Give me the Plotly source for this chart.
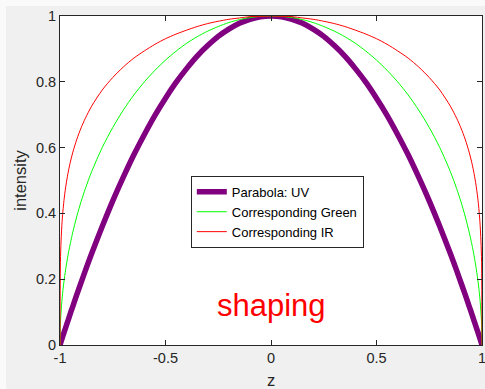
import plotly.graph_objects as go

# Sampled profile positions along z and the three intensity curves
z = [-1, -0.998, -0.995, -0.99, -0.985, -0.98, -0.97, -0.96, -0.95, -0.94, -0.92,
     -0.9, -0.88, -0.85, -0.8, -0.75, -0.7, -0.65, -0.6, -0.55, -0.5, -0.45, -0.4,
     -0.35, -0.3, -0.25, -0.2, -0.15, -0.1, -0.05, 0,
     0.05, 0.1, 0.15, 0.2, 0.25, 0.3, 0.35, 0.4, 0.45, 0.5, 0.55, 0.6, 0.65, 0.7,
     0.75, 0.8, 0.85, 0.88, 0.9, 0.92, 0.94, 0.95, 0.96, 0.97, 0.98, 0.985, 0.99,
     0.995, 0.998, 1]

uv_parabola = [0, .004, .010, .020, .030, .040, .059, .078, .098, .116, .154, .190,
               .226, .278, .360, .438, .510, .578, .640, .698, .750, .798, .840, .878,
               .910, .938, .960, .978, .990, .998, 1.000,
               .998, .990, .978, .960, .938, .910, .878, .840, .798, .750, .698, .640,
               .578, .510, .438, .360, .278, .226, .190, .154, .116, .098, .078, .059,
               .040, .030, .020, .010, .004, 0]

green = [0, .063, .100, .141, .173, .199, .243, .280, .312, .341, .392, .436, .475,
         .527, .600, .661, .714, .760, .800, .835, .866, .893, .917, .937, .954, .968,
         .980, .989, .995, .999, 1.000,
         .999, .995, .989, .980, .968, .954, .937, .917, .893, .866, .835, .800, .760,
         .714, .661, .600, .527, .475, .436, .392, .341, .312, .280, .243, .199, .173,
         .141, .100, .063, 0]

infrared = [0, .251, .316, .376, .415, .446, .493, .529, .559, .584, .626, .660, .689,
            .726, .775, .813, .845, .872, .894, .914, .931, .945, .957, .968, .977, .984,
            .990, .994, .998, .999, 1.000,
            .999, .998, .994, .990, .984, .977, .968, .957, .945, .931, .914, .894, .872,
            .845, .813, .775, .726, .689, .660, .626, .584, .559, .529, .493, .446, .415,
            .376, .316, .251, 0]

x_ticks = [-1, -0.5, 0, 0.5, 1]
x_tick_labels = ["-1", "-0.5", "0", "0.5", "1"]
y_ticks = [0, 0.2, 0.4, 0.6, 0.8, 1]
y_tick_labels = ["0", "0.2", "0.4", "0.6", "0.8", "1"]

FONT = "Arial, Liberation Sans, sans-serif"
INK = "#262626"

fig = go.Figure()
fig.add_trace(go.Scatter(x=z, y=uv_parabola, mode="lines", name="Parabola: UV",
                         line=dict(color="#800080", width=5.5, shape="spline",
                                   smoothing=1)))
fig.add_trace(go.Scatter(x=z, y=green, mode="lines", name="Corresponding Green",
                         line=dict(color="#00ff00", width=1, shape="spline",
                                   smoothing=0.8)))
fig.add_trace(go.Scatter(x=z, y=infrared, mode="lines", name="Corresponding IR",
                         line=dict(color="#ff0000", width=1, shape="spline",
                                   smoothing=0.8)))

fig.add_annotation(x=0, y=0.12, xref="x", yref="y", text="shaping",
                   showarrow=False, font=dict(family=FONT, size=31, color="#ff0000"))

axis_common = dict(showgrid=False, zeroline=False, showline=True, linecolor=INK,
                   linewidth=1, mirror="ticks", ticks="inside", ticklen=5,
                   tickcolor=INK, tickwidth=1, ticklabeloverflow="allow",
                   automargin=False,
                   tickfont=dict(family=FONT, size=14.5, color=INK))

fig.update_layout(
    width=485, height=389,
    margin=dict(l=60, r=3, t=16, b=44),
    paper_bgcolor="#f0f0f0",
    plot_bgcolor="#ffffff",
    showlegend=True,
    legend=dict(x=0.31, y=0.514, xanchor="left", yanchor="top",
                bgcolor="#ffffff", bordercolor=INK, borderwidth=1,
                font=dict(family=FONT, size=13, color="#000000"),
                tracegroupgap=0),
    xaxis=dict(range=[-1, 1], tickvals=x_ticks, ticktext=x_tick_labels,
               title=dict(text="z", standoff=18,
                          font=dict(family=FONT, size=16.5, color=INK)),
               **axis_common),
    yaxis=dict(range=[0, 1], tickvals=y_ticks, ticktext=y_tick_labels,
               title=dict(text="intensity", standoff=5,
                          font=dict(family=FONT, size=16.5, color=INK)),
               **axis_common),
    shapes=[
        dict(type="rect", xref="paper", yref="paper", layer="below",
             x0=-0.1422, x1=-0.128, y0=-0.1337, y1=1.0486,
             fillcolor="#fafafa", line=dict(width=0)),
        dict(type="rect", xref="paper", yref="paper", layer="below",
             x0=-0.1422, x1=1.0071, y0=1.0304, y1=1.0486,
             fillcolor="#fafafa", line=dict(width=0)),
    ],
)

fig.write_html("out.html", config={"displayModeBar": False})
